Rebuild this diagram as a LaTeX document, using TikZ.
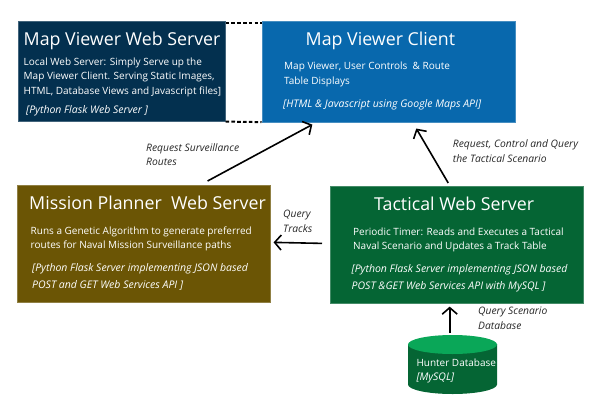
\documentclass[tikz,border=0pt]{standalone}
\usepackage{fontspec}
\setmainfont{Open Sans}
\usetikzlibrary{arrows.meta}

\definecolor{serverBlue}{HTML}{03304F}
\definecolor{clientBlue}{HTML}{0868AD}
\definecolor{plannerBrown}{HTML}{6B5505}
\definecolor{tacticalGreen}{HTML}{056534}
\definecolor{dbTop}{HTML}{0AA758}

\begin{document}
\begin{tikzpicture}
[x=1pt,y=-1pt,
  arrowDecorate/.style={-{Straight Barb[length=6.5pt,width=15pt,line width=1.6pt]},line width=1.6pt},%
  dashDecorate/.style={line width=2pt,dash pattern=on 3.6pt off 2.2pt},%
  boxDecorate/.style={shape=rectangle,anchor=north west,inner sep=0pt,draw=#1!75!white,fill=#1,line width=0.6pt},%
  titleDecorate/.style={anchor=base west,inner sep=0pt,text=white,font=\fontsize{17.8}{22}\selectfont},%
  bodyDecorate/.style={anchor=base west,inner sep=0pt,align=left,text=white,font=\fontsize{10}{14.6}\selectfont},%
  apiDecorate/.style={anchor=base west,inner sep=0pt,align=left,text=white,font=\fontsize{10.5}{16.5}\selectfont\itshape},%
  labelDecorate/.style={anchor=base west,inner sep=0pt,align=left,text=black!85,font=\fontsize{10.3}{14.5}\selectfont\itshape},%
]
\useasboundingbox (0,0) rectangle (600,400);
%% boxes
\foreach \nodename/\x/\y/\w/\h/\col in {
  webserver/18/20.5/207/100.5/serverBlue, client/261.5/20.5/253/101/clientBlue,
  planner/17/185/252.5/117/plannerBrown, tactical/330/186/253/116.5/tacticalGreen}
{
  \node (\nodename) at (\x,\y) [boxDecorate=\col,minimum width=\w pt,minimum height=\h pt] {};
}
%% database
\fill[tacticalGreen] (408,344) -- (408,384.5) arc[start angle=180,end angle=0,x radius=44.5,y radius=9.5]
  -- (497,344) -- cycle;
\fill[dbTop] (452.5,344.5) ellipse [x radius=44.5,y radius=9.5];
\node (hunter) at (408,335) [shape=rectangle,anchor=north west,inner sep=0pt,minimum width=89pt,minimum height=59pt] {};
%% titles
\foreach \nodename/\x/\y/\txt in {
  webtitle/23.5/45/Map Viewer Web Server, clienttitle/305.5/45/Map Viewer Client,
  plannertitle/29/209/Mission Planner\ \ Web Server, tacticaltitle/374/210/Tactical Web Server}
{
  \node (\nodename) at (\x,\y) [titleDecorate] {\txt};
}
%% descriptions, placed by their last line
\foreach \nodename/\x/\y/\txt in {
  webbody/23.5/94.5/{Local Web Server: Simply Serve up the\\Map Viewer Client. Serving Static Images,\\HTML, Database Views and Javascript files]},
  clientbody/284/84/{Map Viewer, User Controls\ \ \& Route\\Table Displays},
  plannerbody/30.5/248.6/{Runs a Genetic Algorithm to generate preferred\\routes for Naval Mission Surveillance paths},
  tacticalbody/353/249.7/{Periodic Timer: Reads and Executes a Tactical\\Naval Scenario and Updates a Track Table},
  hunterbody/416.3/366/{Hunter Database}}
{
  \node (\nodename) at (\x,\y) [bodyDecorate] {\txt};
}
%% implementation notes
\foreach \nodename/\x/\y/\txt in {
  webapi/26/113.7/{[Python Flask Web Server ]},
  clientapi/283/107/{[HTML \& Javascript using Google Maps API]},
  plannerapi/32/288/{[Python Flask Server implementing JSON based\\POST and GET Web Services API ]},
  tacticalapi/351.5/289.3/{[Python Flask Server implementing JSON based\\POST \&GET Web Services API with MySQL ]},
  hunterapi/416.3/380.7/{[MySQL]}}
{
  \node (\nodename) at (\x,\y) [apiDecorate] {\txt};
}
%% connector labels
\foreach \nodename/\x/\y/\txt in {
  routeslabel/146/165.7/{Request Surveillance\\Routes},
  scenariolabel/452.7/162.3/{Request, Control and Query\\the Tactical Scenario},
  trackslabel/283/232/{Query\\Tracks},
  dblabel/478/329.3/{Query Scenario\\Database}}
{
  \node (\nodename) at (\x,\y) [labelDecorate] {\txt};
}
%% edges
\draw[dashDecorate] ([yshift=-2pt]webserver.north east) -- ([yshift=-2pt]client.north west);
\draw[dashDecorate] (webserver.south east) -- (client.south west);
\draw[arrowDecorate,shorten <=8.4pt,shorten >=5.2pt]
  ([xshift=56.6pt]planner.north) -- ([xshift=-71.4pt]client.south);
\draw[arrowDecorate,shorten <=3.5pt,shorten >=7.5pt]
  ([xshift=-6.8pt]tactical.north) -- ([xshift=24.2pt]client.south);
\draw[arrowDecorate,shorten <=8pt,shorten >=3.5pt]
  ([yshift=1pt]tactical.west) -- ([yshift=1.5pt]planner.east);
\draw[arrowDecorate,shorten <=2pt,shorten >=3.5pt]
  ([xshift=-3pt]hunter.north) -- ([xshift=-3pt]hunter.north |- tactical.south);
\end{tikzpicture}
\end{document}
